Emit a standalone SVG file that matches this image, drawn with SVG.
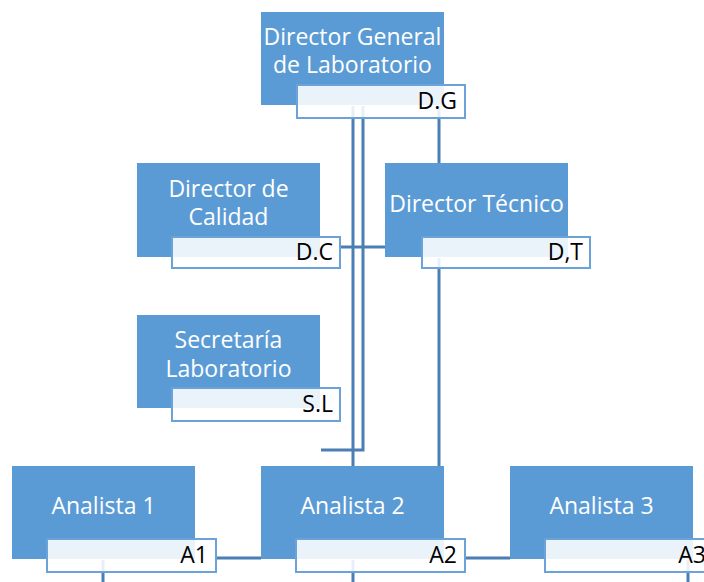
<svg xmlns="http://www.w3.org/2000/svg" width="704" height="582" viewBox="0 0 704 582">
<style>
.box{fill:#5b9bd5}
.lbl{fill:#ffffff;fill-opacity:0.88;stroke:#6ba3d9;stroke-width:2}
.t{font-family:"Open Sans","Liberation Sans",sans-serif;font-size:23px;fill:#ffffff;text-anchor:middle}
.c{font-family:"Open Sans","Liberation Sans",sans-serif;font-size:23px;fill:#000000;text-anchor:end}
.ln{stroke:#4a7eb4;stroke-width:3;fill:none}
</style>
<rect width="704" height="582" fill="#ffffff"/>
<g id="connectors">
<path class="ln" d="M353 106V466"/>
<path class="ln" d="M363 106V450H321"/>
<path class="ln" d="M439 106V163"/>
<path class="ln" d="M439 258V466"/>
<path class="ln" d="M340 247H385"/>
<path class="ln" d="M216 558H261"/>
<path class="ln" d="M465 558H510"/>
<path class="ln" d="M103 560V582"/>
<path class="ln" d="M353 560V582"/>
<path class="ln" d="M688 560V582"/>
</g>
<g id="node-dg">
<rect class="box" x="261" y="12" width="183" height="93"/>
<text class="t" x="352.5" y="45">Director General</text>
<text class="t" x="352.5" y="73">de Laboratorio</text>
<rect class="lbl" x="297" y="85" width="168" height="33"/>
<text class="c" x="457" y="109">D.G</text>
</g>
<g id="node-dc">
<rect class="box" x="137" y="163" width="183" height="94"/>
<text class="t" x="228.5" y="197">Director de</text>
<text class="t" x="228.5" y="225">Calidad</text>
<rect class="lbl" x="172" y="237" width="168" height="31"/>
<text class="c" x="333" y="260">D.C</text>
</g>
<g id="node-dt">
<rect class="box" x="385" y="163" width="183" height="94"/>
<text class="t" x="476.5" y="212">Director Técnico</text>
<rect class="lbl" x="422" y="237" width="168" height="31"/>
<text class="c" x="583" y="260">D,T</text>
</g>
<g id="node-sl">
<rect class="box" x="137" y="315" width="183" height="93"/>
<text class="t" x="228.5" y="348">Secretaría</text>
<text class="t" x="228.5" y="377">Laboratorio</text>
<rect class="lbl" x="172" y="388" width="168" height="33"/>
<text class="c" x="333" y="412">S.L</text>
</g>
<g id="node-a1">
<rect class="box" x="12" y="466" width="183" height="93"/>
<text class="t" x="103.5" y="514">Analista 1</text>
<rect class="lbl" x="47" y="539" width="169" height="33"/>
<text class="c" x="208" y="563">A1</text>
</g>
<g id="node-a2">
<rect class="box" x="261" y="466" width="183" height="93"/>
<text class="t" x="352.5" y="514">Analista 2</text>
<rect class="lbl" x="296" y="539" width="169" height="33"/>
<text class="c" x="457" y="563">A2</text>
</g>
<g id="node-a3">
<rect class="box" x="510" y="466" width="183" height="93"/>
<text class="t" x="601.5" y="514">Analista 3</text>
<rect class="lbl" x="545" y="539" width="169" height="33"/>
<text class="c" x="706" y="563">A3</text>
</g>
</svg>
